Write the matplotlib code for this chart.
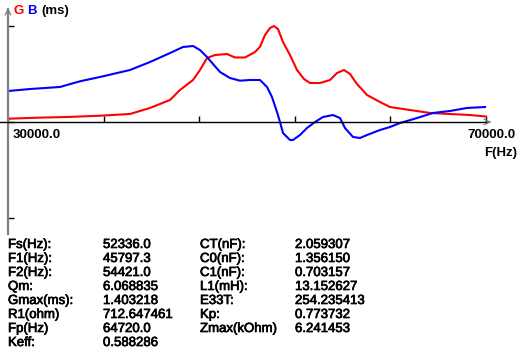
import matplotlib
matplotlib.use("Agg")
import matplotlib.pyplot as plt
import matplotlib.patheffects as pe

# frequency sweep (Hz) and conductance G / susceptance B (ms)
freq_g = [30000, 32427, 34937, 37699, 40209, 41883, 43556, 44393, 45481, 46067,
          46653, 47322, 48326, 48996, 49833, 50669, 51088, 51506, 51925, 52259,
          52594, 53013, 53598, 54184, 54770, 55272, 56109, 56946, 57531, 58117,
          58619, 59205, 60042, 61130, 61967, 63640, 65314, 66987, 68661, 70000]
g_ms = [0.048, 0.063, 0.073, 0.092, 0.117, 0.205, 0.322, 0.468, 0.614, 0.760,
        0.935, 0.979, 0.994, 0.943, 0.943, 1.023, 1.100, 1.271, 1.374, 1.403,
        1.359, 1.169, 0.979, 0.760, 0.628, 0.570, 0.570, 0.614, 0.716, 0.760,
        0.702, 0.555, 0.395, 0.292, 0.219, 0.175, 0.132, 0.117, 0.102, 0.080]

freq_b = [30000, 31841, 34351, 36025, 37699, 40209, 41883, 43556, 44644, 45481,
          46067, 46653, 47155, 47741, 48577, 49414, 50251, 51088, 51674, 52092,
          52510, 52761, 53013, 53598, 53849, 54435, 55021, 55690, 56360, 57197,
          57782, 58201, 58870, 59456, 60042, 61130, 61967, 62803, 64226, 65565,
          66987, 68410, 69916]
b_ms = [0.453, 0.482, 0.512, 0.595, 0.658, 0.760, 0.877, 1.008, 1.096, 1.111,
        1.052, 0.950, 0.848, 0.731, 0.643, 0.604, 0.614, 0.614, 0.512, 0.365,
        0.146, 0.000, -0.161, -0.263, -0.263, -0.190, -0.088, 0.000, 0.073, 0.102,
        0.058, -0.088, -0.219, -0.234, -0.190, -0.117, -0.073, -0.015, 0.058, 0.132,
        0.161, 0.205, 0.219]

x_ticks = [30000, 38000, 46000, 54000, 62000, 70000]
y_ticks = [-1.403218, 0, 1.403218]

labels_1 = ["Fs(Hz):", "F1(Hz):", "F2(Hz):", "Qm:", "Gmax(ms):", "R1(ohm)", "Fp(Hz)", "Keff:"]
values_1 = ["52336.0", "45797.3", "54421.0", "6.068835", "1.403218", "712.647461", "64720.0", "0.588286"]
labels_2 = ["CT(nF):", "C0(nF):", "C1(nF):", "L1(mH):", "E33T:", "Kp:", "Zmax(kOhm)"]
values_2 = ["2.059307", "1.356150", "0.703157", "13.152627", "254.235413", "0.773732", "6.241453"]

W, H = 520, 359
plt.rcParams['font.family'] = ['Liberation Sans', 'DejaVu Sans']


def fx(p):
    # screen pixel column -> Hz
    return 30000 + (p - 8) * 40000 / 478


def fy(q):
    # screen pixel row -> ms
    return (122 - q) / 96 * 1.403218


fig = plt.figure(figsize=(W / 100, H / 100), dpi=100)
ax = fig.add_axes([0, 0, 1, 1])
ax.set_xlim(fx(0), fx(W))
ax.set_ylim(fy(H), fy(0))

ax.plot(freq_g, g_ms, color="#ff0000", lw=1.5)
ax.plot(freq_b, b_ms, color="#0000ff", lw=1.5)

for s in ["top", "right"]:
    ax.spines[s].set_visible(False)
ax.spines["left"].set_position(("data", 30000))
ax.spines["left"].set_bounds(fy(234), fy(9))
ax.spines["left"].set_color("#808080")
ax.spines["left"].set_linewidth(1.6)
ax.spines["bottom"].set_position(("data", 0))
ax.spines["bottom"].set_bounds(fx(0), fx(487))
ax.spines["bottom"].set_linewidth(1.0)
ax.set_xticks(x_ticks)
ax.set_yticks(y_ticks)
ax.set_xticklabels([])
ax.set_yticklabels([])
ax.tick_params(direction="in", length=4, width=1, color="black")

# arrow heads
ax.annotate("", xy=(30000, fy(5)), xytext=(30000, fy(12)),
            arrowprops=dict(arrowstyle="->", color="#808080", lw=1))
ax.annotate("", xy=(fx(494), 0), xytext=(fx(486), 0),
            arrowprops=dict(arrowstyle="->", color="#808080", lw=1))

fs = 9.5
fig.text(13 / W, 1 - 11 / H, "G", color="#ff0000", fontsize=fs, fontweight="bold", va="center")
fig.text(27 / W, 1 - 11 / H, "B", color="#0000ff", fontsize=fs, fontweight="bold", va="center")
fig.text(41 / W, 1 - 11 / H, "(ms)", color="black", fontsize=fs, fontweight="bold", va="center")
fig.text(13 / W, 1 - 135 / H, "30000.0", fontsize=fs, fontweight="bold", va="center")
fig.text(515 / W, 1 - 135 / H, "70000.0", fontsize=fs, fontweight="bold", va="center", ha="right")
fig.text(517 / W, 1 - 153 / H, "F(Hz)", fontsize=fs, fontweight="bold", va="center", ha="right")

# parameter table (bitmap font looks a bit heavier than plain regular)
heavy = [pe.withStroke(linewidth=0.5, foreground="black")]
for i in range(len(labels_1)):
    yy = 1 - (245 + 14 * i) / H
    fig.text(8 / W, yy, labels_1[i], fontsize=fs, va="center", path_effects=heavy)
    fig.text(103 / W, yy, values_1[i], fontsize=fs, va="center", path_effects=heavy)
for i in range(len(labels_2)):
    yy = 1 - (245 + 14 * i) / H
    fig.text(200 / W, yy, labels_2[i], fontsize=fs, va="center", path_effects=heavy)
    fig.text(295 / W, yy, values_2[i], fontsize=fs, va="center", path_effects=heavy)

fig.savefig("out.png", dpi=100)
